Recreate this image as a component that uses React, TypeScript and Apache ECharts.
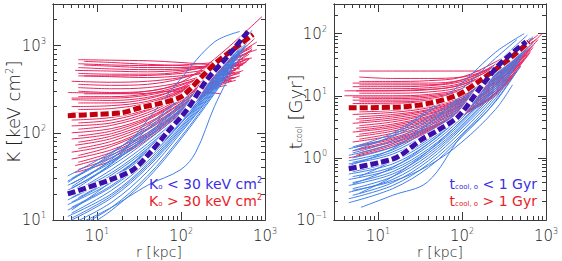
import React, { useEffect, useRef } from "react";
import * as echarts from "echarts";

// ---- entropy profiles K(r) [r in kpc, K in keV cm^2] ----
const entropyHighCore: number[][][] = [
  [[6, 690], [15, 680], [40, 670], [100, 640], [250, 600], [420, 580]],
  [[7, 660], [15, 640], [40, 610], [100, 590], [250, 560], [380, 540]],
  [[6, 620], [15, 600], [40, 590], [100, 600], [250, 640], [700, 720]],
  [[6, 560], [15, 540], [40, 530], [100, 540], [250, 600], [600, 800]],
  [[5.5, 520], [15, 510], [40, 500], [100, 520], [250, 560], [500, 540]],
  [[6, 480], [15, 470], [40, 470], [100, 500], [250, 620], [800, 900]],
  [[7, 450], [15, 450], [40, 455], [100, 480], [250, 550], [650, 700]],
  [[6, 300], [15, 290], [40, 300], [100, 380], [250, 700], [920, 2150]],
  [[5, 390], [15, 380], [40, 390], [100, 430], [250, 520], [550, 600]],
  [[6, 360], [15, 350], [40, 360], [100, 420], [250, 580], [700, 950]],
  [[4.5, 290], [10, 285], [30, 280], [80, 300], [200, 290], [300, 280]],
  [[6, 330], [15, 320], [40, 330], [100, 380], [250, 500], [600, 650]],
  [[7, 280], [15, 280], [40, 300], [100, 360], [250, 480], [450, 520]],
  [[6, 260], [15, 260], [40, 280], [100, 350], [250, 520], [700, 1000]],
  [[5, 240], [15, 235], [40, 255], [100, 320], [250, 450], [500, 500]],
  [[6, 220], [15, 220], [40, 245], [100, 330], [250, 550], [800, 1100]],
  [[5, 200], [15, 205], [40, 230], [100, 310], [250, 480], [600, 700]],
  [[6, 185], [15, 190], [40, 220], [100, 300], [250, 460], [450, 480]],
  [[5, 170], [15, 175], [40, 210], [100, 300], [250, 500], [700, 900]],
  [[6, 155], [15, 165], [40, 200], [100, 290], [250, 470], [550, 620]],
  [[5, 140], [15, 150], [40, 185], [100, 270], [250, 430], [400, 470]],
  [[6, 130], [15, 140], [40, 180], [100, 280], [250, 480], [750, 1200]],
  [[5, 120], [15, 130], [40, 170], [100, 260], [250, 420], [500, 560]],
  [[6, 110], [15, 122], [40, 160], [100, 250], [250, 440], [650, 800]],
  [[5, 100], [15, 112], [40, 150], [100, 240], [250, 400], [450, 430]],
  [[6, 92], [15, 105], [40, 145], [100, 240], [250, 430], [600, 700]],
  [[5, 85], [15, 98], [40, 140], [100, 230], [250, 380], [400, 400]],
  [[6, 78], [15, 92], [40, 130], [100, 220], [250, 400], [700, 900]],
  [[5.5, 72], [15, 86], [40, 125], [100, 215], [250, 390], [500, 480]],
  [[6, 66], [15, 80], [40, 118], [100, 205], [250, 380], [600, 650]],
  [[5, 60], [15, 74], [40, 112], [100, 200], [250, 370], [450, 430]],
  [[6, 55], [15, 70], [40, 108], [100, 195], [250, 360], [550, 520]],
  [[5, 50], [15, 64], [40, 100], [100, 185], [250, 350], [400, 390]],
  [[6, 46], [15, 60], [40, 96], [100, 180], [250, 350], [650, 700]],
  [[5.5, 42], [15, 56], [40, 92], [100, 175], [250, 340], [500, 450]],
  [[6, 38], [15, 52], [40, 88], [100, 170], [250, 330], [450, 400]],
  [[5.5, 35], [15, 48], [40, 84], [100, 165], [250, 320], [350, 350]],
  [[5, 250], [15, 250], [40, 270], [100, 330], [250, 420], [350, 430]],
  [[7, 600], [15, 580], [40, 560], [100, 560], [250, 590], [500, 600]],
  [[6, 450], [15, 440], [40, 430], [100, 450], [250, 500], [350, 520]],
];

const entropyLowCore: number[][][] = [
  [[4.5, 32], [15, 60], [40, 110], [100, 210], [250, 480], [500, 900]],
  [[5, 30], [15, 55], [40, 100], [100, 200], [250, 500], [600, 1100]],
  [[4.5, 28], [15, 52], [40, 95], [100, 190], [250, 450], [450, 750]],
  [[5, 26], [15, 48], [40, 90], [100, 185], [250, 460], [650, 1300]],
  [[4.5, 25], [15, 46], [40, 88], [100, 180], [250, 420], [400, 650]],
  [[5, 23], [15, 42], [40, 82], [100, 170], [250, 430], [550, 950]],
  [[4.5, 22], [15, 45], [40, 140], [100, 420], [250, 1100], [500, 1450]],
  [[5, 20], [15, 38], [40, 75], [100, 160], [250, 400], [500, 800]],
  [[4.5, 19], [15, 35], [40, 70], [100, 155], [250, 420], [650, 1400]],
  [[5, 18], [15, 33], [40, 66], [100, 150], [250, 380], [450, 700]],
  [[4.5, 17], [15, 31], [40, 62], [100, 145], [250, 400], [600, 1100]],
  [[5, 16], [15, 29], [40, 58], [100, 140], [250, 370], [500, 850]],
  [[4.5, 15], [15, 27], [40, 55], [100, 135], [250, 380], [700, 1500]],
  [[5, 14], [15, 25], [40, 52], [100, 130], [250, 350], [400, 600]],
  [[4.5, 13], [15, 24], [40, 50], [100, 128], [250, 360], [550, 900]],
  [[5, 12], [15, 22], [40, 47], [100, 120], [250, 340], [450, 700]],
  [[4.5, 11], [15, 20], [40, 44], [100, 115], [250, 330], [600, 1000]],
  [[5, 10.5], [15, 19], [40, 42], [100, 110], [250, 320], [500, 800]],
  [[4.5, 9.5], [15, 18], [40, 40], [100, 105], [250, 310], [650, 1200]],
  [[5, 9], [15, 16], [40, 36], [100, 100], [250, 300], [400, 550]],
  [[6, 9], [15, 14], [40, 25], [100, 38], [150, 60], [250, 200], [400, 500]],
  [[5.5, 8], [15, 14], [40, 32], [100, 90], [250, 290], [550, 800]],
  [[7, 8], [15, 13], [40, 30], [100, 85], [250, 280], [450, 650]],
  [[5, 24], [15, 50], [40, 110], [100, 250], [250, 600], [600, 1200]],
  [[5, 21], [15, 44], [40, 95], [100, 220], [250, 560], [700, 1300]],
  [[6, 18], [15, 30], [40, 60], [100, 130], [250, 330], [350, 480]],
  [[4.5, 27], [15, 58], [40, 120], [100, 260], [250, 650], [650, 1350]],
  [[5, 13], [15, 28], [40, 65], [100, 170], [250, 480], [600, 1150]],
];

const entropyMedianHigh: number[][] = [
  [4.5, 157], [10, 163], [20, 170], [32.6, 194], [60, 220], [97.6, 255],
  [130, 320], [169, 420], [270, 655], [450, 950], [721, 1340],
];
const entropyMedianLow: number[][] = [
  [4.5, 19.9], [14.3, 28.8], [26.9, 37.6], [42.8, 59], [68, 100],
  [118, 184], [204, 407], [355, 743], [628, 1450],
];

// ---- cooling time profiles t_cool(r) [r in kpc, t in Gyr] ----
const tcoolHighCore: number[][][] = [
  [[6, 25], [15, 25], [40, 25], [100, 25], [170, 25]],
  [[6, 17], [15, 17], [40, 17.5], [100, 20], [250, 35], [600, 70]],
  [[5, 16], [15, 16], [40, 16], [100, 18], [250, 30], [500, 55]],
  [[6, 15], [15, 15], [40, 15], [100, 18], [250, 32], [700, 85]],
  [[5, 14], [15, 14], [40, 14.5], [100, 17], [250, 28], [450, 45]],
  [[6, 13], [15, 13], [40, 13.5], [100, 16], [250, 30], [800, 95]],
  [[5.5, 12], [15, 12], [40, 12.5], [100, 15], [250, 26], [550, 55]],
  [[6, 11], [15, 11], [40, 11.5], [100, 14], [250, 27], [650, 70]],
  [[4, 10], [15, 10], [40, 10.5], [100, 13], [250, 24], [400, 38]],
  [[5, 9.5], [15, 9.5], [40, 10], [100, 12.5], [250, 25], [750, 80]],
  [[6, 9], [15, 9], [40, 9.5], [100, 12], [250, 22], [500, 45]],
  [[5, 8.5], [15, 8.5], [40, 9], [100, 12], [250, 24], [600, 60]],
  [[6, 8], [15, 8], [40, 8.5], [100, 11], [250, 21], [450, 38]],
  [[5, 7.5], [15, 7.6], [40, 8.2], [100, 11], [250, 23], [700, 75]],
  [[5.5, 7], [15, 7.2], [40, 8], [100, 10.5], [250, 20], [550, 50]],
  [[6, 6.5], [15, 6.7], [40, 7.5], [100, 10], [250, 19], [400, 32]],
  [[5, 6], [15, 6.3], [40, 7.2], [100, 10], [250, 21], [900, 100]],
  [[6, 5.5], [15, 5.8], [40, 6.8], [100, 9.5], [250, 19], [600, 55]],
  [[5, 5], [15, 5.4], [40, 6.4], [100, 9], [250, 18], [500, 42]],
  [[6, 4.6], [15, 5], [40, 6], [100, 8.8], [250, 18], [650, 60]],
  [[5.5, 4.2], [15, 4.7], [40, 5.8], [100, 8.5], [250, 17], [450, 35]],
  [[6, 3.9], [15, 4.4], [40, 5.5], [100, 8.2], [250, 17], [700, 65]],
  [[5, 3.6], [15, 4.1], [40, 5.2], [100, 8], [250, 16], [550, 45]],
  [[6, 3.3], [15, 3.8], [40, 5], [100, 7.8], [250, 16], [400, 28]],
  [[5.5, 3], [15, 3.5], [40, 4.7], [100, 7.5], [250, 15], [600, 50]],
  [[6, 2.8], [15, 3.3], [40, 4.5], [100, 7.2], [250, 15], [500, 38]],
  [[5, 2.6], [15, 3.1], [40, 4.3], [100, 7], [250, 15], [800, 80]],
  [[6, 2.4], [15, 2.9], [40, 4.1], [100, 6.8], [250, 14], [450, 30]],
  [[5.5, 2.2], [15, 2.7], [40, 3.9], [100, 6.5], [250, 14], [650, 55]],
  [[6, 2], [15, 2.5], [40, 3.7], [100, 6.3], [250, 13], [500, 35]],
  [[5, 1.8], [15, 2.3], [40, 3.5], [100, 6], [250, 13], [550, 40]],
  [[6, 1.6], [15, 2.1], [40, 3.3], [100, 5.8], [250, 12], [400, 22]],
  [[5.5, 1.5], [15, 2], [40, 3.1], [100, 5.5], [250, 12], [700, 60]],
  [[6, 1.4], [15, 1.9], [40, 3], [100, 5.3], [250, 11], [450, 25]],
  [[5, 1.3], [15, 1.8], [40, 2.9], [100, 5.2], [250, 11], [600, 45]],
  [[6, 1.2], [15, 1.7], [40, 2.8], [100, 5], [250, 10.5], [500, 30]],
  [[5.5, 1.1], [15, 1.6], [40, 2.7], [100, 5], [250, 11], [650, 50]],
  [[4.5, 1.0], [15, 1.5], [40, 2.6], [100, 4.8], [250, 10], [400, 20]],
  [[6, 20], [15, 19], [40, 19], [100, 20], [250, 30], [500, 50]],
  [[4, 12], [10, 12], [30, 12.5], [80, 14], [200, 22], [300, 28]],
];

const tcoolLowCore: number[][][] = [
  [[5, 1.5], [15, 2.5], [40, 6], [100, 16], [250, 50], [550, 100]],
  [[4.5, 1.4], [15, 2.2], [40, 4.5], [100, 10], [250, 28], [500, 60]],
  [[5, 1.2], [15, 1.9], [40, 4], [100, 9], [250, 26], [600, 75]],
  [[4.5, 1.1], [15, 1.7], [40, 3.6], [100, 8.5], [250, 25], [450, 50]],
  [[5, 1.0], [15, 1.5], [40, 3.2], [100, 8], [250, 24], [650, 85]],
  [[4.5, 0.9], [15, 1.35], [40, 2.9], [100, 7.5], [250, 23], [550, 65]],
  [[5, 0.85], [15, 1.25], [40, 2.6], [100, 7], [250, 22], [400, 40]],
  [[4.5, 0.8], [15, 1.15], [40, 2.4], [100, 6.5], [250, 21], [600, 70]],
  [[5, 0.72], [15, 1.05], [40, 2.2], [100, 6], [250, 20], [500, 55]],
  [[4.5, 0.65], [15, 0.95], [40, 2], [100, 5.6], [250, 19], [700, 90]],
  [[5, 0.6], [15, 0.88], [40, 1.85], [100, 5.2], [250, 18], [450, 42]],
  [[4.5, 0.55], [15, 0.8], [40, 1.7], [100, 4.8], [250, 17], [600, 65]],
  [[5, 0.5], [15, 0.72], [40, 1.55], [100, 4.4], [250, 16], [500, 50]],
  [[4.5, 0.45], [15, 0.66], [40, 1.4], [100, 4], [250, 15], [650, 75]],
  [[5, 0.4], [15, 0.6], [40, 1.3], [100, 3.7], [250, 14], [400, 30]],
  [[4.5, 0.36], [15, 0.55], [40, 1.2], [100, 3.4], [250, 13], [550, 55]],
  [[5, 0.32], [15, 0.5], [40, 1.1], [100, 3.2], [250, 12], [450, 35]],
  [[4.5, 0.28], [15, 0.45], [40, 1], [100, 3], [250, 11], [600, 60]],
  [[5, 0.25], [15, 0.4], [40, 0.9], [100, 2.7], [250, 10], [500, 40]],
  [[4.5, 0.22], [15, 0.36], [40, 0.8], [100, 2.4], [250, 9], [350, 18]],
  [[4.5, 0.19], [15, 0.32], [40, 0.7], [100, 2.2], [250, 8], [450, 25]],
  [[6.3, 0.16], [15, 0.25], [39, 0.41], [97, 2.2], [205, 5.9], [500, 30]],
  [[5, 0.3], [15, 0.42], [40, 0.75], [100, 1.8], [250, 6], [400, 15]],
  [[5, 1.3], [15, 2.3], [40, 5.5], [100, 13], [250, 40], [450, 80]],
  [[4.5, 0.75], [15, 1.4], [40, 3.5], [100, 10], [250, 32], [600, 95]],
  [[6, 0.5], [15, 0.9], [40, 2.2], [100, 6.5], [250, 22], [500, 60]],
  [[5, 0.38], [15, 0.7], [40, 1.7], [100, 5], [250, 17], [700, 70]],
  [[6, 0.27], [15, 0.5], [40, 1.3], [100, 4], [250, 13], [300, 16]],
];

const tcoolMedianHigh: number[][] = [
  [4.5, 6.4], [18.8, 6.6], [43, 7.7], [90, 10.4], [169, 18.1], [355, 38], [628, 74],
];
const tcoolMedianLow: number[][] = [
  [4.5, 0.67], [10, 0.83], [17.3, 1.04], [32.6, 1.95], [52, 2.8], [90, 4.6],
  [169, 14], [292, 34], [580, 74],
];

// ---- axis ranges and labelled decades (log10 units) ----
const radiusRange = [3, 1000];
const entropyRange = [10, 3000];
const tcoolRange = [0.1, 300];
const radiusDecades = [1, 2, 3];
const entropyDecades = [1, 2, 3];
const tcoolDecades = [-1, 0, 1, 2];

const RED_THIN = "#e8245e";
const BLUE_THIN = "#3f7fe8";
const RED_MED = "#c2000e";
const BLUE_MED = "#3b0fa8";
const RED_TEXT = "#e61e28";
const BLUE_TEXT = "#3b2fe0";
const FRAME = "#3a3a3a";
const INK = "#222";
const FONT = "DejaVu Sans";
const THIN = 200;

const lg = (pts: number[][]) => pts.map(([r, v]) => [Math.log10(r), Math.log10(v)]);

// minor ticks at 2..9 x 10^n inside [lo, hi] (log10 units)
function minorTicks(lo: number, hi: number): number[] {
  const out: number[] = [];
  for (let n = Math.floor(lo) - 1; n <= Math.ceil(hi); n++) {
    for (let k = 2; k <= 9; k++) {
      const v = Math.log10(k) + n;
      if (v > lo + 1e-6 && v < hi - 1e-6) out.push(v);
    }
  }
  return out;
}

const labelRich = {
  b: { fontSize: 15, fontFamily: FONT, fontWeight: THIN, color: INK },
  s: { fontSize: 8, fontFamily: FONT, fontWeight: THIN, color: INK, padding: [0, 0, 9, 0] },
};

function makeAxis(
  gridIndex: number,
  position: string,
  range: number[],
  ticks: number[],
  len: number,
  label: boolean,
  extra: any = {}
) {
  return {
    type: "value",
    gridIndex,
    position,
    min: Math.log10(range[0]),
    max: Math.log10(range[1]),
    axisLine: { show: true, onZero: false, lineStyle: { color: FRAME, width: 1 } },
    axisTick: {
      show: true,
      inside: true,
      length: len,
      customValues: ticks,
      lineStyle: { color: FRAME, width: 1 },
    },
    axisLabel: label
      ? {
          show: true,
          customValues: ticks,
          margin: 7,
          formatter: (v: number) => {
            const e = Math.round(v);
            return `{b|10}{s|${e < 0 ? "−" + Math.abs(e) : e}}`;
          },
          rich: labelRich,
        }
      : { show: false },
    splitLine: { show: false },
    silent: true,
    ...extra,
  };
}

function panelAxes(
  grid: number,
  yRange: number[],
  yDecades: number[],
  yName: string,
  yRich: any
) {
  const xMinor = minorTicks(Math.log10(radiusRange[0]), Math.log10(radiusRange[1]));
  const yMinor = minorTicks(Math.log10(yRange[0]), Math.log10(yRange[1]));
  const xAxes = [
    makeAxis(grid, "bottom", radiusRange, radiusDecades, 8, true, {
      name: "r [kpc]",
      nameLocation: "middle",
      nameGap: 25,
      nameMoveOverlap: false,
      nameTextStyle: { fontSize: 14, fontFamily: FONT, fontWeight: THIN, color: INK },
    }),
    makeAxis(grid, "bottom", radiusRange, xMinor, 4, false),
    makeAxis(grid, "top", radiusRange, radiusDecades, 8, false),
    makeAxis(grid, "top", radiusRange, xMinor, 4, false),
  ];
  const yAxes = [
    makeAxis(grid, "left", yRange, yDecades, 8, true, {
      name: yName,
      nameLocation: "middle",
      nameGap: 30,
      nameMoveOverlap: false,
      nameRotate: 90,
      nameTextStyle: { fontSize: 18, fontFamily: FONT, fontWeight: THIN, color: INK, rich: yRich },
    }),
    makeAxis(grid, "left", yRange, yMinor, 4, false),
    makeAxis(grid, "right", yRange, yDecades, 8, false),
    makeAxis(grid, "right", yRange, yMinor, 4, false),
  ];
  return { xAxes, yAxes };
}

function thinSeries(lines: number[][][], color: string, xi: number, yi: number) {
  return lines.map((pts) => ({
    type: "line",
    xAxisIndex: xi,
    yAxisIndex: yi,
    data: lg(pts),
    showSymbol: false,
    smooth: 0.35,
    silent: true,
    lineStyle: { color, width: 1 },
    z: 2,
  }));
}

function medianSeries(pts: number[][], color: string, xi: number, yi: number) {
  const data = lg(pts);
  return [
    {
      type: "line",
      xAxisIndex: xi,
      yAxisIndex: yi,
      data,
      showSymbol: false,
      smooth: 0.3,
      silent: true,
      lineStyle: { color: "#ffffff", width: 6 },
      z: 5,
    },
    {
      type: "line",
      xAxisIndex: xi,
      yAxisIndex: yi,
      data,
      showSymbol: false,
      smooth: 0.3,
      silent: true,
      lineStyle: { color, width: 5, type: [8, 3] },
      z: 6,
    },
  ];
}

export default function App() {
  const ref = useRef<HTMLDivElement>(null);

  useEffect(() => {
    if (!ref.current) return;
    const chart = echarts.init(ref.current, null, { renderer: "svg" });

    const left = panelAxes(0, entropyRange, entropyDecades, "K [keV cm{s|2}]", {
      s: { fontSize: 10, fontFamily: FONT, fontWeight: THIN, color: INK, padding: [0, 0, 9, 0] },
    });
    const right = panelAxes(1, tcoolRange, tcoolDecades, "t{c|cool} [Gyr]", {
      c: { fontSize: 8, fontFamily: FONT, fontWeight: THIN, color: INK, padding: [8, 0, 0, 0] },
    });

    const legendRich = (color: string) => ({
      sub: { fontSize: 7, fontFamily: FONT, fill: color, padding: [6, 0, 0, 0] },
      sup: { fontSize: 8, fontFamily: FONT, fill: color, padding: [0, 0, 7, 0] },
    });

    const legendText = (x: number, y: number, text: string, color: string) => ({
      type: "text",
      x,
      y,
      silent: true,
      z: 20,
      style: {
        text,
        fill: color,
        fontSize: 14,
        fontFamily: FONT,
        align: "right",
        verticalAlign: "middle",
        textAlign: "right",
        textVerticalAlign: "middle",
        rich: legendRich(color),
      },
    });

    chart.setOption({
      animation: false,
      backgroundColor: "#ffffff",
      grid: [
        { left: 53, top: 4, width: 212, height: 216, containLabel: false, outerBoundsMode: "none" },
        { left: 334, top: 4, width: 212, height: 216, containLabel: false, outerBoundsMode: "none" },
      ],
      xAxis: [...left.xAxes, ...right.xAxes],
      yAxis: [...left.yAxes, ...right.yAxes],
      series: [
        ...thinSeries(entropyHighCore, RED_THIN, 0, 0),
        ...thinSeries(entropyLowCore, BLUE_THIN, 0, 0),
        ...medianSeries(entropyMedianHigh, RED_MED, 0, 0),
        ...medianSeries(entropyMedianLow, BLUE_MED, 0, 0),
        ...thinSeries(tcoolHighCore, RED_THIN, 4, 4),
        ...thinSeries(tcoolLowCore, BLUE_THIN, 4, 4),
        ...medianSeries(tcoolMedianHigh, RED_MED, 4, 4),
        ...medianSeries(tcoolMedianLow, BLUE_MED, 4, 4),
      ],
      graphic: [
        legendText(262, 184, "K{sub|o} < 30 keV cm{sup|2}", BLUE_TEXT),
        legendText(262, 201, "K{sub|o} > 30 keV cm{sup|2}", RED_TEXT),
        legendText(537, 184, "t{sub|cool, o} < 1 Gyr", BLUE_TEXT),
        legendText(537, 201, "t{sub|cool, o} > 1 Gyr", RED_TEXT),
      ],
    });

    return () => chart.dispose();
  }, []);

  return (
    <div
      ref={ref}
      style={{ position: "absolute", left: 0, top: 0, width: 562, height: 261, background: "#fff" }}
    />
  );
}
